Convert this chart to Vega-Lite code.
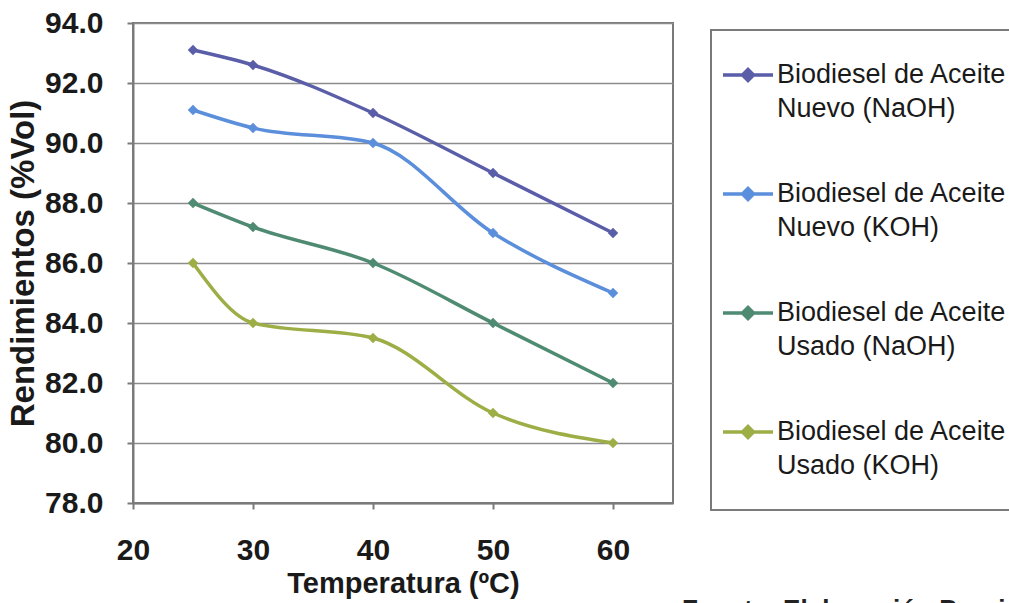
{
  "$schema": "https://vega.github.io/schema/vega-lite/v6.json",
  "width": 540,
  "height": 480,
  "autosize": {"type": "none"},
  "padding": {"left": 133, "top": 23, "right": 336, "bottom": 100},
  "background": "white",
  "config": {
    "font": "Liberation Sans",
    "view": {"stroke": "#7a7a7a", "strokeWidth": 2}
  },
  "title": {
    "text": "Fuente: Elaboración Propia",
    "orient": "bottom",
    "anchor": "start",
    "frame": "group",
    "dx": 549,
    "offset": -1,
    "fontSize": 26,
    "fontWeight": "bold",
    "color": "#222222",
    "baseline": "top"
  },
  "data": {
    "values": [
      {"serie": "Biodiesel de Aceite Nuevo (NaOH)", "temp": 25, "rend": 93.1},
      {"serie": "Biodiesel de Aceite Nuevo (NaOH)", "temp": 30, "rend": 92.6},
      {"serie": "Biodiesel de Aceite Nuevo (NaOH)", "temp": 40, "rend": 91.0},
      {"serie": "Biodiesel de Aceite Nuevo (NaOH)", "temp": 50, "rend": 89.0},
      {"serie": "Biodiesel de Aceite Nuevo (NaOH)", "temp": 60, "rend": 87.0},
      {"serie": "Biodiesel de Aceite Nuevo (KOH)", "temp": 25, "rend": 91.1},
      {"serie": "Biodiesel de Aceite Nuevo (KOH)", "temp": 30, "rend": 90.5},
      {"serie": "Biodiesel de Aceite Nuevo (KOH)", "temp": 40, "rend": 90.0},
      {"serie": "Biodiesel de Aceite Nuevo (KOH)", "temp": 50, "rend": 87.0},
      {"serie": "Biodiesel de Aceite Nuevo (KOH)", "temp": 60, "rend": 85.0},
      {"serie": "Biodiesel de Aceite Usado (NaOH)", "temp": 25, "rend": 88.0},
      {"serie": "Biodiesel de Aceite Usado (NaOH)", "temp": 30, "rend": 87.2},
      {"serie": "Biodiesel de Aceite Usado (NaOH)", "temp": 40, "rend": 86.0},
      {"serie": "Biodiesel de Aceite Usado (NaOH)", "temp": 50, "rend": 84.0},
      {"serie": "Biodiesel de Aceite Usado (NaOH)", "temp": 60, "rend": 82.0},
      {"serie": "Biodiesel de Aceite Usado (KOH)", "temp": 25, "rend": 86.0},
      {"serie": "Biodiesel de Aceite Usado (KOH)", "temp": 30, "rend": 84.0},
      {"serie": "Biodiesel de Aceite Usado (KOH)", "temp": 40, "rend": 83.5},
      {"serie": "Biodiesel de Aceite Usado (KOH)", "temp": 50, "rend": 81.0},
      {"serie": "Biodiesel de Aceite Usado (KOH)", "temp": 60, "rend": 80.0}
    ]
  },
  "encoding": {
    "x": {
      "field": "temp",
      "type": "quantitative",
      "scale": {"domain": [20, 65], "nice": false, "zero": false},
      "axis": {
        "values": [20, 30, 40, 50, 60],
        "grid": false,
        "labelFlush": false,
        "title": "Temperatura (ºC)",
        "titleFontSize": 29,
        "titleFontWeight": "bold",
        "titleColor": "#1a1a1a",
        "titlePadding": 4,
        "labelFontSize": 30,
        "labelFontWeight": "bold",
        "labelColor": "#1a1a1a",
        "labelPadding": 26,
        "tickSize": 6,
        "tickColor": "#7a7a7a",
        "tickWidth": 2,
        "domainColor": "#7a7a7a",
        "domainWidth": 2
      }
    },
    "y": {
      "field": "rend",
      "type": "quantitative",
      "scale": {"domain": [78, 94], "nice": false, "zero": false},
      "axis": {
        "values": [78, 80, 82, 84, 86, 88, 90, 92, 94],
        "format": ".1f",
        "grid": true,
        "gridColor": "#8c8c8c",
        "gridWidth": 1.5,
        "title": "Rendimientos (%Vol)",
        "titleFontSize": 33,
        "titleFontWeight": "bold",
        "titleColor": "#1a1a1a",
        "titlePadding": 4,
        "labelFontSize": 30,
        "labelFontWeight": "bold",
        "labelColor": "#1a1a1a",
        "labelPadding": 24,
        "tickSize": 6,
        "tickColor": "#7a7a7a",
        "tickWidth": 2,
        "domainColor": "#7a7a7a",
        "domainWidth": 2
      }
    },
    "color": {
      "field": "serie",
      "type": "nominal",
      "scale": {
        "domain": [
          "Biodiesel de Aceite Nuevo (NaOH)",
          "Biodiesel de Aceite Nuevo (KOH)",
          "Biodiesel de Aceite Usado (NaOH)",
          "Biodiesel de Aceite Usado (KOH)"
        ],
        "range": ["#5a5ea8", "#5b8edb", "#4f8a72", "#9dae46"]
      },
      "legend": {
        "title": " ",
        "titleOrient": "bottom",
        "titleFontSize": 9,
        "titlePadding": 4,
        "orient": "none",
        "legendX": 578,
        "legendY": 7,
        "direction": "vertical",
        "padding": 18,
        "strokeColor": "#7a7a7a",
        "symbolType": "M-1,0L1,0M0,-0.22L0.22,0L0,0.22L-0.22,0Z",
        "symbolSize": 2500,
        "symbolStrokeWidth": 3.5,
        "symbolOffset": -8,
        "labelFontSize": 27,
        "labelColor": "#1a1a1a",
        "labelLimit": 400,
        "labelOffset": 2,
        "rowPadding": 45,
        "labelExpr": "[slice(datum.label, 0, 19), slice(datum.label, 20)]",
        "encode": {
          "legend": {"update": {"strokeWidth": {"value": 2}}},
          "labels": {"update": {"lineHeight": {"value": 34}}}
        }
      }
    }
  },
  "layer": [
    {"mark": {"type": "line", "interpolate": "monotone", "strokeWidth": 3.5}},
    {"mark": {"type": "point", "shape": "diamond", "filled": true, "size": 110, "opacity": 1}}
  ]
}
